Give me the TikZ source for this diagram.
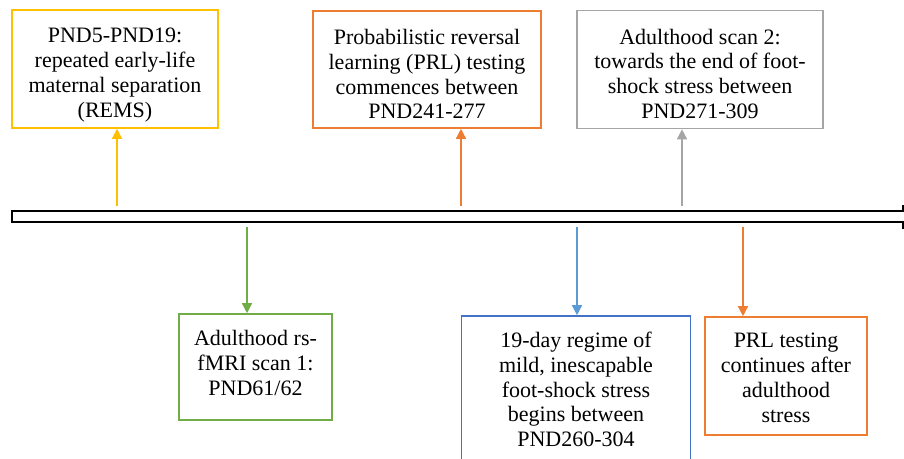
\documentclass[tikz,border=0pt]{standalone}
\usepackage{fontspec}
\setmainfont{Liberation Serif}
\usetikzlibrary{arrows.meta}
\definecolor{cyel}{HTML}{FFC000}
\definecolor{corg}{HTML}{ED7D31}
\definecolor{cgry}{HTML}{A5A5A5}
\definecolor{cgrn}{HTML}{70AD47}
\definecolor{cblu}{HTML}{4472C4}
\definecolor{cbla}{HTML}{5B9BD5}
\tikzset{
  evbox/.style={draw=#1, line width=1.6pt, rectangle, inner sep=0pt, fill=white},
  evtxt/.style={anchor=north, align=center, inner sep=0pt, font=\fontsize{22}{24.7}\selectfont},
  evarrow/.style={draw=#1, line width=1.4pt, -{Triangle[length=10pt,width=10pt]}},
}
\begin{document}
\begin{tikzpicture}[x=1pt,y=-1pt]
\useasboundingbox (0,0) rectangle (904,458);
\clip (0,0) rectangle (904,458);
\fill[white] (0,0) rectangle (904,458);
% timeline bar
\draw[line width=1.8pt, line join=miter] (903,205) -- (903,211) -- (12,211) -- (12,222) -- (903,222) -- (903,229);
% boxes above
\node[evbox=cyel, minimum width=206pt, minimum height=118pt] (b1) at (115,69) {};
\node[evtxt] (t1) at ([yshift=-19pt]b1.north) {PND5-PND19:\\repeated early-life\\maternal separation\\(REMS)};
\node[evbox=corg, minimum width=228pt, minimum height=117pt] (b2) at (427,69.5) {};
\node[evtxt] (t2) at ([yshift=-19pt]b2.north) {Probabilistic reversal\\learning (PRL) testing\\commences between\\PND241-277};
\node[evbox=cgry, minimum width=246pt, minimum height=118pt] (b3) at (700,69.5) {};
\node[evtxt] (t3) at ([yshift=-19pt]b3.north) {Adulthood scan 2:\\towards the end of foot-\\shock stress between\\PND271-309};
% boxes below
\node[evbox=cgrn, minimum width=153pt, minimum height=106pt] (b4) at (255.5,367) {};
\node[evtxt] (t4) at ([yshift=-17pt]b4.north) {Adulthood rs-\\fMRI scan 1:\\PND61/62};
\node[evbox=cblu, minimum width=229pt, minimum height=160pt] (b5) at (576,396) {};
\node[evtxt] (t5) at ([yshift=-17pt]b5.north) {19-day regime of\\mild, inescapable\\foot-shock stress\\begins between\\PND260-304};
\node[evbox=corg, minimum width=162pt, minimum height=118pt] (b6) at (786,376) {};
\node[evtxt] (t6) at ([yshift=-17pt]b6.north) {PRL testing\\continues after\\adulthood\\stress};
% arrow start points on the bar
\coordinate (a1) at (117,206);
\coordinate (a2) at (461,206);
\coordinate (a3) at (682,206);
\coordinate (a4) at (247,227);
\coordinate (a5) at (577,227);
\coordinate (a6) at (743,227);
\draw[evarrow=cyel] (a1) -- (a1 |- b1.south);
\draw[evarrow=corg] (a2) -- (a2 |- b2.south);
\draw[evarrow=cgry] (a3) -- (a3 |- b3.south);
\draw[evarrow=cgrn] (a4) -- (a4 |- b4.north);
\draw[evarrow=cbla] (a5) -- (a5 |- b5.north);
\draw[evarrow=corg] (a6) -- (a6 |- b6.north);
\end{tikzpicture}
\end{document}
